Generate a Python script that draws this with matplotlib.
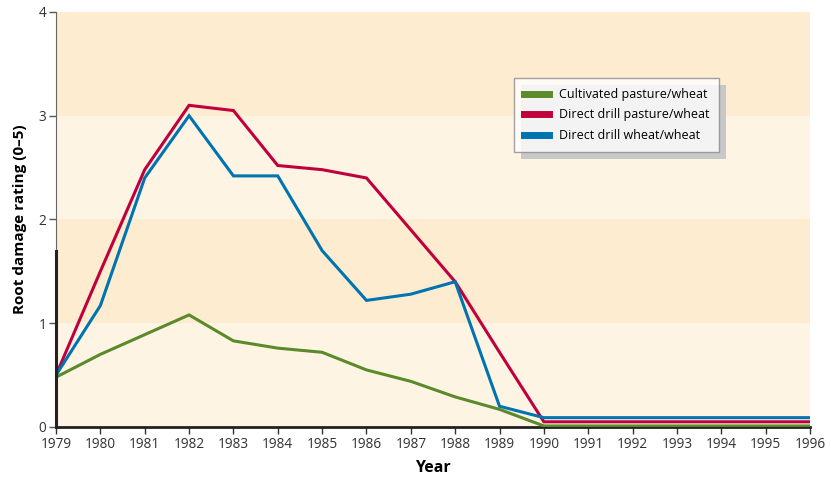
import numpy as np
import matplotlib
matplotlib.use("Agg")
import matplotlib.pyplot as plt
import matplotlib.patheffects as pe

plt.rcParams['font.family'] = ['Open Sans', 'DejaVu Sans']

# Data
years = list(range(1979, 1997))
cultivated = [0.48, 0.70, 0.89, 1.08, 0.83, 0.76, 0.72, 0.55, 0.44, 0.29, 0.17,
              0.01, 0.01, 0.01, 0.01, 0.01, 0.01, 0.01]
dd_pasture = [0.50, 1.50, 2.48, 3.10, 3.05, 2.52, 2.48, 2.40, 1.90, 1.40, 0.72,
              0.05, 0.05, 0.05, 0.05, 0.05, 0.05, 0.05]
dd_wheat = [0.50, 1.17, 2.40, 3.00, 2.42, 2.42, 1.70, 1.22, 1.28, 1.40, 0.20,
            0.09, 0.09, 0.09, 0.09, 0.09, 0.09, 0.09]
labels = ["Cultivated pasture/wheat", "Direct drill pasture/wheat",
          "Direct drill wheat/wheat"]
colors = ["#5a8a2a", "#c0003c", "#0073b1"]

fig = plt.figure(figsize=(8.31, 4.78), dpi=100)
ax = fig.add_axes([0.0674, 0.1067, 0.9073, 0.8683])

# alternating background bands
band_cols = ["#fef4e4", "#fdecd0", "#fef4e4", "#fdecd0"]
for i, c in enumerate(band_cols):
    ax.axhspan(i, i + 1, color=c, lw=0, zorder=0)

for ys, lab, col in zip([cultivated, dd_pasture, dd_wheat], labels, colors):
    ax.plot(years, ys, color=col, lw=2.2, label=lab, zorder=3, clip_on=True,
            solid_joinstyle='miter')

ax.set_xlim(1979, 1996)
ax.set_ylim(0, 4)
ax.set_xticks(years)
ax.set_yticks([0, 1, 2, 3, 4])
ax.tick_params(axis='both', labelsize=9.8, colors='#333333', length=5,
               width=1.0, pad=2)
ax.tick_params(axis='y', color='#555555')

for s in ['top', 'right']:
    ax.spines[s].set_visible(False)
ax.spines['left'].set_color('#666666')
ax.spines['left'].set_linewidth(0.8)
ax.spines['bottom'].set_color('#222222')
ax.spines['bottom'].set_linewidth(2.0)
ax.spines['bottom'].set_zorder(2)
# thicker segment on the lower part of the y axis
ax.plot([1979, 1979], [0, 1.7], color='#222222', lw=2.2, clip_on=False, zorder=4)

ax.set_ylabel("Root damage rating (0–5)", fontsize=11, fontweight='bold',
              labelpad=8)
ax.set_xlabel("Year", fontsize=11.5, fontweight='bold', labelpad=6)

leg = ax.legend(loc='upper left', bbox_to_anchor=(0.607, 0.841),
                borderaxespad=0, frameon=True, fancybox=False, shadow=False,
                fontsize=9, handlelength=2.0, handleheight=0.6, borderpad=0.8,
                labelspacing=0.6, handletextpad=0.8)
frame = leg.get_frame()
frame.set_edgecolor('#8a8a8a')
frame.set_linewidth(1.0)
frame.set_facecolor('white')
frame.set_path_effects([pe.SimplePatchShadow(offset=(5, -5), shadow_rgbFace='#c8c8c8',
                                             alpha=1.0), pe.Normal()])
for line in leg.get_lines():
    line.set_linewidth(5)

fig.savefig("out.png", dpi=100)
